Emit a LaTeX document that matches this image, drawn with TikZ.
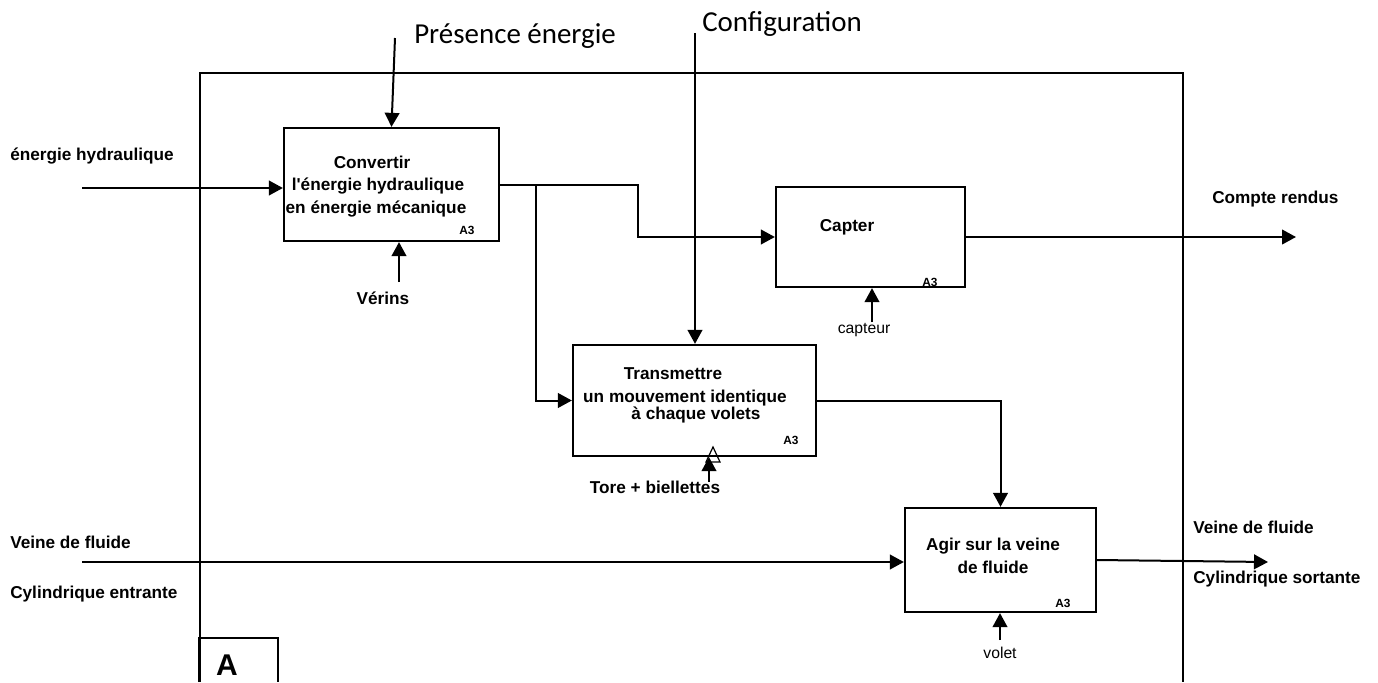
\documentclass[tikz,border=0pt]{standalone}
\usepackage{fontspec}
\setmainfont{Liberation Sans}[Ligatures=TeXOff]
\newfontfamily\calib{Carlito}
\usetikzlibrary{arrows.meta,fit}
\begin{document}
\begin{tikzpicture}[x=0.75pt,y=-0.75pt,
  box/.style={draw,line width=1.7pt,inner sep=0pt,fill=none},
  conn/.style={line width=1.5pt},
  arr/.style={conn,-{Triangle[length=10.5pt,width=11pt]}},
  lbl/.style={font=\fontsize{12.9}{15}\selectfont\bfseries,inner sep=0pt},
  lblr/.style={font=\fontsize{11.8}{14}\selectfont,inner sep=0pt},
  aref/.style={font=\fontsize{8.9}{10}\selectfont\bfseries,inner sep=0pt},
  big/.style={font=\fontsize{21.7}{25}\selectfont\calib,inner sep=0pt}]
\useasboundingbox (0,0) rectangle (1378,682);
% outer frame
\draw[line width=1.7pt] (200,682) -- (200,73) -- (1183,73) -- (1183,682);
\draw[line width=1.7pt] (199,682) -- (199,638) -- (278,638) -- (278,682);
\node[anchor=base,font=\fontsize{22.5}{26}\selectfont\bfseries,inner sep=0pt] (Alab) at (227,675) {A};
% boxes
\node[box,fit={(284,128)(499,241)}] (b1) {};
\node[box,fit={(776,187)(965,287)}] (cap) {};
\node[box,fit={(573,345)(816,456)}] (tr) {};
\node[box,fit={(905,508)(1096,612)}] (ag) {};
% box texts
\node[lbl,anchor=base] (t1a) at (372,168) {Convertir};
\node[lbl,anchor=base] (t1b) at (378,190) {l'énergie hydraulique};
\node[lbl,anchor=base] (t1c) at (376,213) {en énergie mécanique};
\node[aref,anchor=base] (r1) at (467,234) {A3};
\node[lbl,anchor=base] (t2) at (847,231) {Capter};
\node[aref,anchor=base] (r2) at (930,286) {A3};
\node[lbl,anchor=base] (t3a) at (673,379) {Transmettre};
\node[lbl,anchor=base] (t3b) at (685,402) {un mouvement identique};
\node[lbl,anchor=base] (t3c) at (696,419) {à chaque volets};
\node[aref,anchor=base] (r3) at (791,444) {A3};
\node[lbl,anchor=base] (t4a) at (993,550) {Agir sur la veine};
\node[lbl,anchor=base] (t4b) at (993,573) {de fluide};
\node[aref,anchor=base] (r4) at (1063,607) {A3};
% external labels
\node[big,anchor=base west] (lpres) at (414,43) {Présence énergie};
\node[big,anchor=base west] (lconf) at (702,31) {Configuration};
\node[lbl,anchor=base west] (leh) at (10,160) {énergie hydraulique};
\node[lbl,anchor=base west] (lv1) at (10,548) {Veine de fluide};
\node[lbl,anchor=base west] (lc1) at (10,598) {Cylindrique entrante};
\node[lbl,anchor=base west] (lv2) at (1193,533) {Veine de fluide};
\node[lbl,anchor=base west] (lc2) at (1193,583) {Cylindrique sortante};
\node[lbl,anchor=base west] (lcr) at (1212,203) {Compte rendus};
\node[lbl,anchor=base] (lver) at (383,304) {Vérins};
\node[lblr,anchor=base] (lcapt) at (864,333) {capteur};
\node[lblr,anchor=base] (lvol) at (1000,658) {volet};
\node[lbl,anchor=base] (ltore) at (655,493) {Tore + biellettes};
% coordinates
\coordinate (pres) at (395,38);
\coordinate (conf) at (695,33);
\coordinate (ehin) at (82,188);
\coordinate (ver) at (399,282);
\coordinate (c1) at (638,210);
\coordinate (br) at (536,184.5);
\coordinate (cr) at (1296,237);
\coordinate (capt) at (872,322);
\coordinate (vin) at (82,562);
\coordinate (vout) at (1268,562);
\coordinate (vol) at (1000,640);
\coordinate (tore) at (709,482);
% connectors
\draw[arr] (pres) -- (b1.north);
\draw[arr] (conf) -- (conf |- tr.north);
\draw[arr] (ehin) -- (b1.west |- ehin);
\draw[arr] (ver) -- (ver |- b1.south);
\draw[arr] (b1.east) -| (c1) |- (cap.west);
\draw[arr] (br) |- (tr.west);
\draw[arr] (cap.east) -- (cr);
\draw[arr] (capt) -- (capt |- cap.south);
\draw[arr] (tr.east) -| (ag.north);
\draw[arr] (vin) -- (ag.west |- vin);
\draw[arr] (ag.east) -- (vout);
\draw[arr] (vol) -- (vol |- ag.south);
\draw[line width=0.9pt] (706,462) -- (713,447) -- (720,462) -- cycle;
\draw[arr] (tore) -- (tore |- tr.south);
\end{tikzpicture}
\end{document}
